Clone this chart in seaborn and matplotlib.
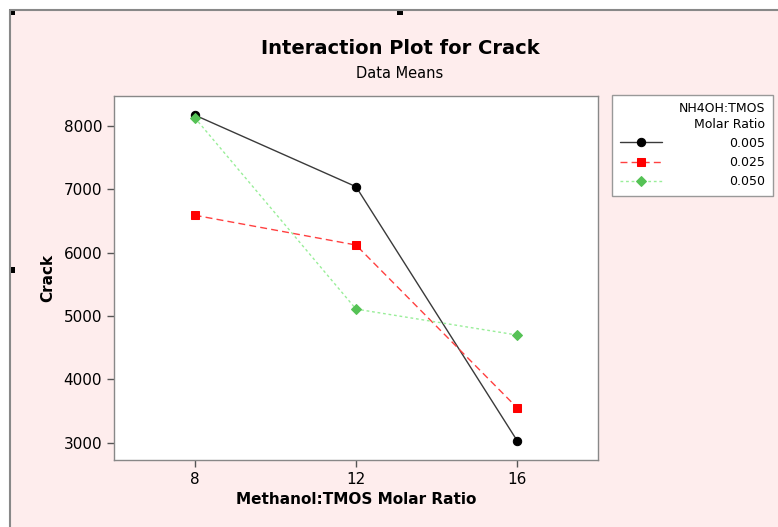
import matplotlib
matplotlib.use("Agg")
import matplotlib.pyplot as plt
import seaborn as sns
import pandas as pd

# Data
methanol_ratio = [8, 12, 16]
crack_0005 = [8170, 7040, 3030]
crack_0025 = [6590, 6120, 3550]
crack_0050 = [8130, 5110, 4700]
ratio_labels = ["0.005", "0.025", "0.050"]

df = pd.DataFrame({
    "ratio": methanol_ratio * 3,
    "crack": crack_0005 + crack_0025 + crack_0050,
    "group": [l for l in ratio_labels for _ in methanol_ratio],
})

sns.set_style("white")
plt.rcParams["font.family"] = ["DejaVu Sans"]
plt.rcParams["text.color"] = "black"
plt.rcParams["axes.labelcolor"] = "black"

W, H = 778, 527
fig = plt.figure(figsize=(W / 100, H / 100), dpi=100, facecolor="white")

# pink graph window with grey top/left edge
fig.patches.append(plt.Rectangle((10 / W, 0), 1, 1 - 10 / H, transform=fig.transFigure,
                                 facecolor="#feeded", edgecolor="none", zorder=-10))
fig.add_artist(plt.Line2D([10 / W, 1], [1 - 10 / H] * 2, transform=fig.transFigure,
                          color="#888888", linewidth=1.5))
fig.add_artist(plt.Line2D([10 / W] * 2, [0, 1 - 10 / H], transform=fig.transFigure,
                          color="#888888", linewidth=1.5))
# selection handles
for hx, hy in [(12, 12), (400, 12), (12, 270)]:
    fig.patches.append(plt.Rectangle(((hx - 3) / W, 1 - (hy + 3) / H), 6 / W, 6 / H,
                                     transform=fig.transFigure, facecolor="black",
                                     edgecolor="none"))

ax = fig.add_axes([114 / W, 1 - 460 / H, (598 - 114) / W, (460 - 96) / H])
ax.set_facecolor("white")

# style per series: line colour, marker colour, marker, dashes
styles = {
    "0.005": ("#3a3a3a", "black", "o", "-", 1.0),
    "0.025": ("#ff4040", "red", "s", (0, (5, 3)), 1.0),
    "0.050": ("#99ee99", "#55c255", "D", (0, (2, 2)), 1.0),
}
for g in ratio_labels:
    lc, mc, mk, ls, lw = styles[g]
    sub = df[df["group"] == g]
    sns.lineplot(data=sub, x="ratio", y="crack", ax=ax, color=lc, linestyle=ls,
                 linewidth=lw, marker=mk, markersize=6 if mk != "D" else 5,
                 markerfacecolor=mc, markeredgecolor=mc, label=g)

ax.set_xlim(6, 18)
ax.set_ylim(2730, 8470)
ax.set_xticks(methanol_ratio)
ax.set_yticks([3000, 4000, 5000, 6000, 7000, 8000])
ax.tick_params(axis="both", direction="out", length=5, width=1, colors="#555555",
               labelcolor="black", labelsize=11, bottom=True, left=True)
for s in ax.spines.values():
    s.set_color("#888888")
    s.set_linewidth(1)

ax.set_xlabel("Methanol:TMOS Molar Ratio", fontsize=11, fontweight="bold", labelpad=4)
ax.set_ylabel("Crack", fontsize=11, fontweight="bold", labelpad=6)

fig.text(0.514, 1 - 48 / H, "Interaction Plot for Crack", ha="center", va="center",
         fontsize=14, fontweight="bold")
fig.text(0.514, 1 - 73 / H, "Data Means", ha="center", va="center", fontsize=10.5)

leg = ax.legend(title="NH4OH:TMOS\nMolar Ratio", loc="upper left",
                bbox_to_anchor=(612 / W, 1 - 95 / H), bbox_transform=fig.transFigure,
                borderaxespad=0, frameon=True, fancybox=False, edgecolor="#999999",
                facecolor="white", framealpha=1, fontsize=9, title_fontsize=9,
                alignment="right", handlelength=3.4, handletextpad=5.4,
                labelspacing=0.5, borderpad=0.6)
leg.get_frame().set_linewidth(1)
leg.get_title().set_ha("right")

fig.savefig("out.png", dpi=100, facecolor=fig.get_facecolor())
